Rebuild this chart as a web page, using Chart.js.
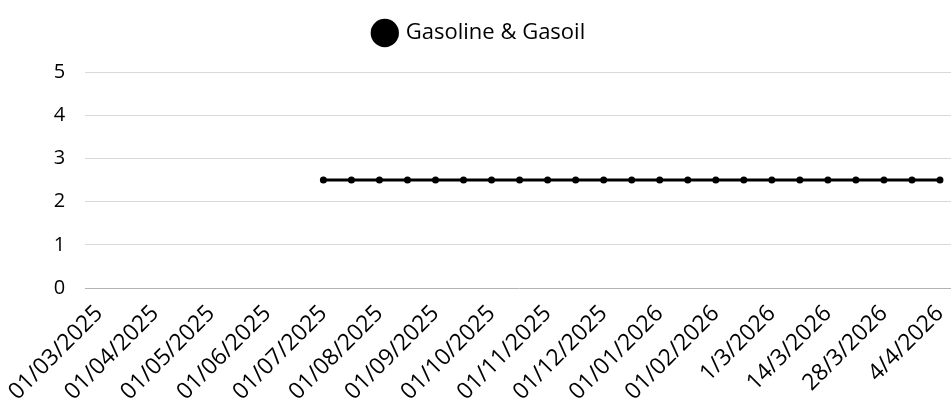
<!DOCTYPE html>
<html>
<head>
<meta charset="utf-8">
<script src="https://cdn.jsdelivr.net/npm/chart.js@4/dist/chart.umd.min.js"></script>
<style>
  html, body { margin: 0; padding: 0; background: #fff; overflow: hidden; }
  /* a touch wider than the window so the plot runs to the right edge */
  #wrap { width: 958px; height: 418px; position: relative; }
</style>
</head>
<body>
<div id="wrap"><canvas id="fuelchart"></canvas></div>
<script>
var dateLabels = [
  "01/03/2025", "15/03/2025", "01/04/2025", "15/04/2025", "01/05/2025", "15/05/2025",
  "01/06/2025", "15/06/2025", "01/07/2025", "15/07/2025", "01/08/2025", "15/08/2025",
  "01/09/2025", "15/09/2025", "01/10/2025", "15/10/2025", "01/11/2025", "15/11/2025",
  "01/12/2025", "15/12/2025", "01/01/2026", "15/01/2026", "01/02/2026", "15/02/2026",
  "1/3/2026", "7/3/2026", "14/3/2026", "21/3/2026", "28/3/2026", "1/4/2026", "4/4/2026"
];
var fuelValues = [
  null, null, null, null, null, null, null, null,
  2.5, 2.5, 2.5, 2.5, 2.5, 2.5, 2.5, 2.5, 2.5, 2.5, 2.5, 2.5,
  2.5, 2.5, 2.5, 2.5, 2.5, 2.5, 2.5, 2.5, 2.5, 2.5, 2.5
];
var seriesName = "Gasoline & Gasoil";
var yTicks = [0, 1, 2, 3, 4, 5];

var fontFamily = "'Open Sans', Lato, sans-serif";

var canvasElement = document.getElementById("fuelchart");

// give the legend a bit more room below it
var legendSpace = {
  id: "legendSpace",
  beforeInit: function (chart) {
    var origFit = chart.legend.fit;
    chart.legend.fit = function () {
      origFit.bind(chart.legend)();
      this.height += 18;
    };
  }
};

var config = {
  type: "line",
  data: {
    labels: dateLabels,
    datasets: [{
      label: seriesName,
      data: fuelValues,
      borderColor: "#000",
      backgroundColor: "#000",
      borderWidth: 3,
      pointRadius: 3.5,
      pointBackgroundColor: "#000",
      pointBorderWidth: 0,
      tension: 0
    }]
  },
  options: {
    responsive: true,
    maintainAspectRatio: false,
    animation: false,
    layout: { padding: { left: 2, right: 0, top: 0, bottom: 0 } },
    plugins: {
      legend: {
        position: "top",
        labels: {
          usePointStyle: true,
          pointStyle: "circle",
          boxWidth: 20,
          boxHeight: 20,
          padding: 22,
          color: "#000",
          font: { family: fontFamily, size: 22 }
        }
      },
      tooltip: { enabled: false }
    },
    scales: {
      x: {
        offset: true,
        grid: { display: false, drawTicks: false },
        border: { display: false },
        afterFit: function (scale) {
          // last label ends at its tick, so no extra room needed on the right
          scale.paddingRight = 0;
        },
        ticks: {
          autoSkip: false,
          maxRotation: 45,
          minRotation: 45,
          padding: 12,
          color: "#000",
          font: { family: fontFamily, size: 23 },
          callback: function (value, index) {
            return index % 2 === 0 ? this.getLabelForValue(value) : "";
          }
        }
      },
      y: {
        min: yTicks[0],
        max: yTicks[yTicks.length - 1],
        grid: {
          color: function (ctx) { return ctx.tick.value === 0 ? "#b3b3b3" : "#d9d9d9"; },
          lineWidth: 1,
          drawTicks: false
        },
        border: { display: false },
        ticks: {
          stepSize: 1,
          padding: 20,
          color: "#000",
          font: { family: fontFamily, size: 20 }
        }
      }
    }
  },
  plugins: [legendSpace]
};

var fuelChart = new Chart(canvasElement, config);
</script>
</body>
</html>
